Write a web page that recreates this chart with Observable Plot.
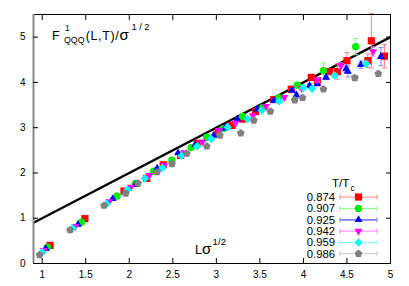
<!DOCTYPE html>
<html><head><meta charset="utf-8">
<script src="https://cdn.jsdelivr.net/npm/d3@7"></script>
<script src="https://cdn.jsdelivr.net/npm/@observablehq/plot@0.6"></script>
<style>
body{margin:0;background:#fff;}
#wrap{position:relative;width:409px;height:286px;font-family:"Liberation Sans",Arial,sans-serif;}
#wrap svg{display:block;}
#legend{position:absolute;left:0;top:0;pointer-events:none;}
</style>
</head><body><div id="wrap"></div>
<script>
// ---- data ----
const temps = ["0.874","0.907","0.925","0.942","0.959","0.986"];
const colors = ["#ff0000","#00ee00","#0000ff","#ff00ff","#00ffff","#808080"];
const errColors = ["#ff8080","#80ff80","#8080ff","#ff80ff","#80ffff","#c8c8c8"];

const x874 = [1.09,1.49,1.94,2.20,2.39,2.59,2.78,3.02,3.18,3.30,3.45,3.66,3.86,4.09,4.16,4.30,4.39,4.50,4.74,4.78,4.93];
const y874 = [0.40,0.99,1.60,1.88,2.18,2.39,2.65,2.88,3.05,3.19,3.36,3.62,3.85,4.11,4.04,4.24,4.24,4.48,4.48,4.92,4.58];
const e874 = [0.01,0.01,0.01,0.01,0.02,0.02,0.02,0.02,0.02,0.03,0.03,0.03,0.04,0.05,0.05,0.07,0.17,0.18,0.15,0.60,0.26];

const x907 = [1.06,1.45,1.86,2.07,2.28,2.49,2.71,2.89,3.08,3.30,3.53,3.72,3.93,4.23,4.60];
const y907 = [0.36,0.91,1.49,1.77,2.04,2.28,2.56,2.79,2.98,3.25,3.44,3.66,3.94,4.26,4.79];
const e907 = [0.01,0.01,0.01,0.02,0.02,0.02,0.02,0.02,0.03,0.03,0.03,0.04,0.04,0.17,0.18];

const x925 = [1.04,1.41,1.81,2.07,2.32,2.56,2.76,2.97,3.10,3.24,3.47,3.66,3.87,3.92,4.07,4.16,4.26,4.49,4.51,4.66,4.89];
const y925 = [0.33,0.86,1.43,1.74,2.10,2.44,2.63,2.83,2.99,3.19,3.41,3.60,3.82,3.72,3.93,3.97,4.11,4.30,4.24,4.39,4.57];
const e925 = [0.01,0.01,0.01,0.02,0.02,0.02,0.02,0.02,0.02,0.03,0.03,0.03,0.04,0.04,0.04,0.05,0.05,0.08,0.12,0.08,0.20];

const x942 = [1.02,1.38,1.77,2.02,2.23,2.40,2.63,2.84,3.03,3.22,3.42,3.57,3.78,3.98,4.16,4.43,4.80];
const y942 = [0.29,0.82,1.37,1.69,1.95,2.17,2.45,2.69,2.94,3.10,3.27,3.47,3.67,3.87,4.05,4.37,4.68];
const e942 = [0.01,0.01,0.01,0.02,0.02,0.02,0.02,0.02,0.03,0.03,0.03,0.03,0.04,0.04,0.05,0.06,0.10];

const x959 = [1.00,1.35,1.74,1.98,2.18,2.38,2.60,2.78,2.94,3.13,3.36,3.52,3.72,4.00,4.10,4.36,4.72];
const y959 = [0.25,0.78,1.32,1.63,1.88,2.11,2.38,2.59,2.75,3.01,3.19,3.38,3.58,3.88,3.86,4.15,4.41];
const e959 = [0.01,0.01,0.01,0.02,0.02,0.02,0.02,0.02,0.02,0.03,0.03,0.03,0.03,0.04,0.04,0.05,0.06];

const x986 = [0.97,1.32,1.71,1.96,2.10,2.32,2.49,2.66,2.89,3.04,3.28,3.43,3.62,3.90,3.99,4.23,4.59,4.86];
const y986 = [0.19,0.74,1.28,1.55,1.77,2.02,2.20,2.43,2.59,2.83,2.88,3.16,3.36,3.61,3.66,3.85,4.10,4.19];
const e986 = [0.01,0.01,0.01,0.01,0.02,0.02,0.02,0.02,0.02,0.02,0.03,0.03,0.03,0.04,0.04,0.04,0.05,0.06];

const lineX = [0.9, 5.0];
const lineY = [0.9, 5.0];

const xTicks = [1,1.5,2,2.5,3,3.5,4,4.5,5];
const xTickLabels = ["1","1.5","2","2.5","3","3.5","4","4.5","5"];
const yTicks = [0,1,2,3,4,5];
const yTickLabels = ["0","1","2","3","4","5"];
const xDomain = [0.9, 5];
const yDomain = [0, 5.5];

// ---- symbols ----
const symSquare = {draw(c){ const h=3.6; c.rect(-h,-h,2*h,2*h); }};
const symCircle = {draw(c){ const r=3.7; c.moveTo(r,0); c.arc(0,0,r,0,2*Math.PI); }};
const symTriUp = {draw(c){ const r=4.6; c.moveTo(0,-r); c.lineTo(r*0.866,r*0.5); c.lineTo(-r*0.866,r*0.5); c.closePath(); }};
const symTriDown = {draw(c){ const r=4.6; c.moveTo(0,r); c.lineTo(r*0.866,-r*0.5); c.lineTo(-r*0.866,-r*0.5); c.closePath(); }};
const symDiamond = {draw(c){ const r=4.2; c.moveTo(0,-r); c.lineTo(r,0); c.lineTo(0,r); c.lineTo(-r,0); c.closePath(); }};
const symPentagon = {draw(c){ const r=4.1; for(let i=0;i<5;i++){ const a=-Math.PI/2+i*2*Math.PI/5; const px=r*Math.cos(a), py=r*Math.sin(a); if(i===0) c.moveTo(px,py); else c.lineTo(px,py);} c.closePath(); }};
const symCap = {draw(c){ c.moveTo(-2.5,0); c.lineTo(2.5,0); }};
const symbols = [symSquare,symCircle,symTriUp,symTriDown,symDiamond,symPentagon];

const seriesX = [x874,x907,x925,x942,x959,x986];
const seriesY = [y874,y907,y925,y942,y959,y986];
const seriesE = [e874,e907,e925,e942,e959,e986];

const dataMarks = [];
seriesX.forEach((xs, k) => {
  const ys = seriesY[k], es = seriesE[k];
  const rows = xs.map((x,i) => ({x, y: ys[i], lo: ys[i]-es[i], hi: ys[i]+es[i]}));
  dataMarks.push(Plot.ruleX(rows, {x:"x", y1:"lo", y2:"hi", stroke: errColors[k], strokeWidth: 1}));
  dataMarks.push(Plot.dot(rows, {x:"x", y:"hi", symbol: symCap, r: 1, stroke: errColors[k], strokeWidth: 1, fill: "none"}));
  dataMarks.push(Plot.dot(rows, {x:"x", y:"lo", symbol: symCap, r: 1, stroke: errColors[k], strokeWidth: 1, fill: "none"}));
  dataMarks.push(Plot.dot(rows, {x:"x", y:"y", symbol: symbols[k], r: 1, fill: colors[k], stroke: "none"}));
});

const lineRows = lineX.map((x,i) => ({x, y: lineY[i]}));

const plot = Plot.plot({
  width: 409, height: 286,
  marginLeft: 33, marginRight: 19, marginTop: 14, marginBottom: 23,
  x: {domain: xDomain, label: null},
  y: {domain: yDomain, label: null},
  style: {fontFamily: "'Liberation Sans', Arial, sans-serif", fontSize: "10px", color: "black", background: "white", overflow: "visible"},
  marks: [
    Plot.line(lineRows, {x:"x", y:"y", stroke:"black", strokeWidth: 2.4, clip: true}),
    ...dataMarks,
    Plot.frame({stroke:"black", strokeWidth: 1}),
    Plot.ruleX([xDomain[0]], {stroke:"#888", strokeWidth: 2}),
    Plot.axisX({anchor:"bottom", ticks: xTicks, tickSize: 5, dy: -5, tickFormat: () => "", stroke:"black"}),
    Plot.axisX({anchor:"top", ticks: xTicks, tickSize: 5, dy: 5, tickFormat: () => "", stroke:"black"}),
    Plot.axisX({anchor:"bottom", ticks: xTicks, tickSize: 0, tickPadding: 7, tickFormat: (d) => xTickLabels[xTicks.indexOf(d)]}),
    Plot.axisY({anchor:"left", ticks: yTicks, tickSize: 5, dx: 5, tickFormat: () => "", stroke:"black"}),
    Plot.axisY({anchor:"right", ticks: yTicks, tickSize: 5, dx: -5, tickFormat: () => "", stroke:"black"}),
    Plot.axisY({anchor:"left", ticks: yTicks, tickSize: 0, tickPadding: 8, tickFormat: d => yTickLabels[yTicks.indexOf(d)]})
  ]
});

const wrap = document.getElementById("wrap");
wrap.appendChild(plot);

// ---- annotations ----
const svg = d3.select(plot);
const ff = "'Liberation Sans', Arial, sans-serif";
function txt(sel, x, y, s, size, len){
  const t = sel.append("text").attr("x", x).attr("y", y).attr("font-size", size).attr("font-family", ff)
    .attr("fill","black").attr("text-anchor","start").text(s);
  if (len) t.attr("textLength", len).attr("lengthAdjust","spacing");
  return t;
}
txt(svg, 52, 40, "F", 12.5);
txt(svg, 65, 31, "1", 8.5);
txt(svg, 64, 43, "QQQ", 8.8, 20.5);
txt(svg, 85.7, 40, "(L,T)/", 12.5, 33);
txt(svg, 119.5, 40, "σ", 15);
txt(svg, 131.5, 30, "1/2", 9.5, 18);

txt(svg, 195, 254, "L", 12.5);
txt(svg, 202, 254, "σ", 15);
txt(svg, 212.5, 245, "1/2", 9.5, 13.5);

// ---- legend ----
const lg = d3.select(wrap).append("svg").attr("id","legend").attr("width",409).attr("height",286);
txt(lg, 332, 187, "T/T", 11.5);
txt(lg, 350.5, 191, "c", 8.5);
const rowY = [197, 208.4, 219.8, 231.1, 242.4, 253.7];
temps.forEach((t,k) => {
  const yy = rowY[k];
  txt(lg, 335, yy + 4, t, 11.3).attr("text-anchor","end");
  lg.append("line").attr("x1",340).attr("x2",377).attr("y1",yy).attr("y2",yy).attr("stroke",errColors[k]).attr("stroke-width", k===2 ? 1.8 : 1);
  [340,377].forEach(cx => lg.append("line").attr("x1",cx).attr("x2",cx).attr("y1",yy-2.5).attr("y2",yy+2.5).attr("stroke",errColors[k]).attr("stroke-width",1));
  lg.append("path").attr("transform",`translate(358.5,${yy})`).attr("d", d3.symbol(symbols[k], 1)()).attr("fill", colors[k]);
});
</script>
</body></html>
